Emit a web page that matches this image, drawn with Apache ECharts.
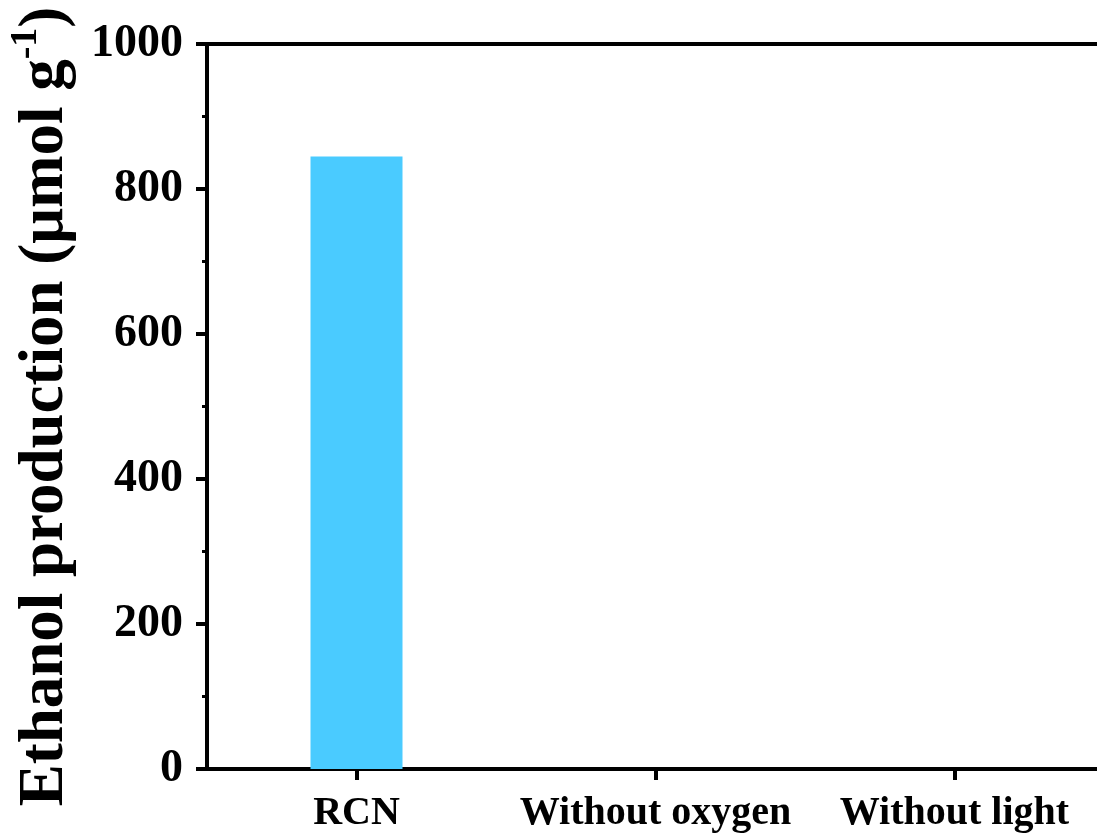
<!DOCTYPE html>
<html>
<head>
<meta charset="utf-8">
<script src="https://cdn.jsdelivr.net/npm/echarts@6/dist/echarts.min.js"></script>
<style>html,body{margin:0;padding:0;background:#fff;}#c{width:1097px;height:834px;}</style>
</head>
<body>
<div id="c"></div>
<script>
const categories = ['RCN', 'Without oxygen', 'Without light'];
const ethanolValues = [845, 0, 0];
const yTicks = [0, 200, 400, 600, 800, 1000];

const chart = echarts.init(document.getElementById('c'), null, {renderer: 'canvas'});
const FONT = '"Liberation Serif", "Times New Roman", serif';
chart.setOption({
  backgroundColor: '#ffffff',
  animation: false,
  grid: {left: 207, top: 44, bottom: 65, right: -7, containLabel: false, outerBoundsMode: 'none'},
  xAxis: [{
    type: 'category',
    data: categories,
    position: 'bottom',
    axisLine: {show: true, lineStyle: {color: '#000', width: 4}},
    axisTick: {show: true, alignWithLabel: true, length: 11, lineStyle: {color: '#000', width: 4}},
    axisLabel: {color: '#000', fontFamily: FONT, fontWeight: 'bold', fontSize: 40, margin: 25, interval: 0}
  }, {
    type: 'category',
    data: categories,
    position: 'top',
    axisLine: {show: true, lineStyle: {color: '#000', width: 4}},
    axisTick: {show: false},
    axisLabel: {show: false}
  }],
  yAxis: {
    type: 'value',
    min: yTicks[0],
    max: yTicks[yTicks.length - 1],
    interval: 200,
    splitLine: {show: false},
    axisLine: {show: true, lineStyle: {color: '#000', width: 4}},
    axisTick: {show: true, length: 11, lineStyle: {color: '#000', width: 4}},
    minorTick: {show: true, splitNumber: 2, length: 5, lineStyle: {color: '#000', width: 3}},
    axisLabel: {color: '#000', fontFamily: FONT, fontWeight: 'bold', fontSize: 46, margin: 24,
      formatter: function (v) { return String(v); }},
    name: '{m|Ethanol production (μmol g}{s|-1}{m|)}',
    nameLocation: 'middle',
    nameGap: 130,
    nameRotate: 90,
    nameTextStyle: {
      rich: {
        m: {fontFamily: FONT, fontWeight: 'bold', fontSize: 63, color: '#000', lineHeight: 70, verticalAlign: 'bottom'},
        s: {fontFamily: FONT, fontWeight: 'bold', fontSize: 38, color: '#000', lineHeight: 70, verticalAlign: 'top'}
      }
    }
  },
  series: [{
    type: 'bar',
    data: ethanolValues,
    barWidth: 92,
    itemStyle: {color: '#4ACBFF'}
  }]
});
</script>
</body>
</html>
